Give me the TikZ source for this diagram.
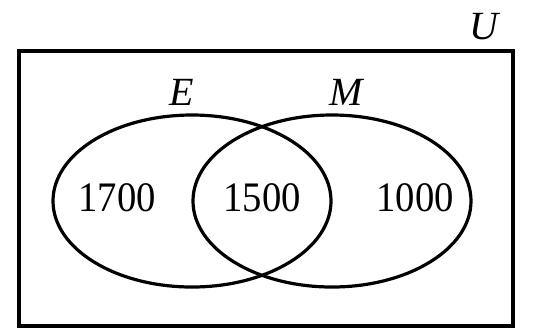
\documentclass[tikz,border=0pt]{standalone}
\usepackage{fontspec}
\setmainfont{Liberation Serif}
\usetikzlibrary{shapes.geometric}

\begin{document}
\begin{tikzpicture}[
  x=0.5pt, y=-0.5pt,
  setshape/.style={draw, ellipse, line width=1.6pt, minimum width=139pt, minimum height=86pt, inner sep=0pt},
  setname/.style={font=\fontsize{20}{20}\selectfont\itshape, inner sep=0pt},
  count/.style={font=\fontsize{21}{21}\selectfont, inner sep=0pt}
]
\useasboundingbox (0,0) rectangle (556,329);

% Universal set
\draw[line width=1.8pt] (19,51) rectangle (513,326);
\node[setname] (lblU) at (484,27) {U};

% Two sets
\node[setshape] (setE) at (192,201) {};
\node[setshape] (setM) at (332,201) {};
\node[setname] (lblE) at (182,92) {E};
\node[setname] (lblM) at (346,92) {M};

% Counts
\node[count, xscale=0.92] (onlyE) at (117,198) {1700};
\node[count, xscale=0.92] (both) at (262,198) {1500};
\node[count, xscale=0.92] (onlyM) at (415,198) {1000};

\end{tikzpicture}
\end{document}
